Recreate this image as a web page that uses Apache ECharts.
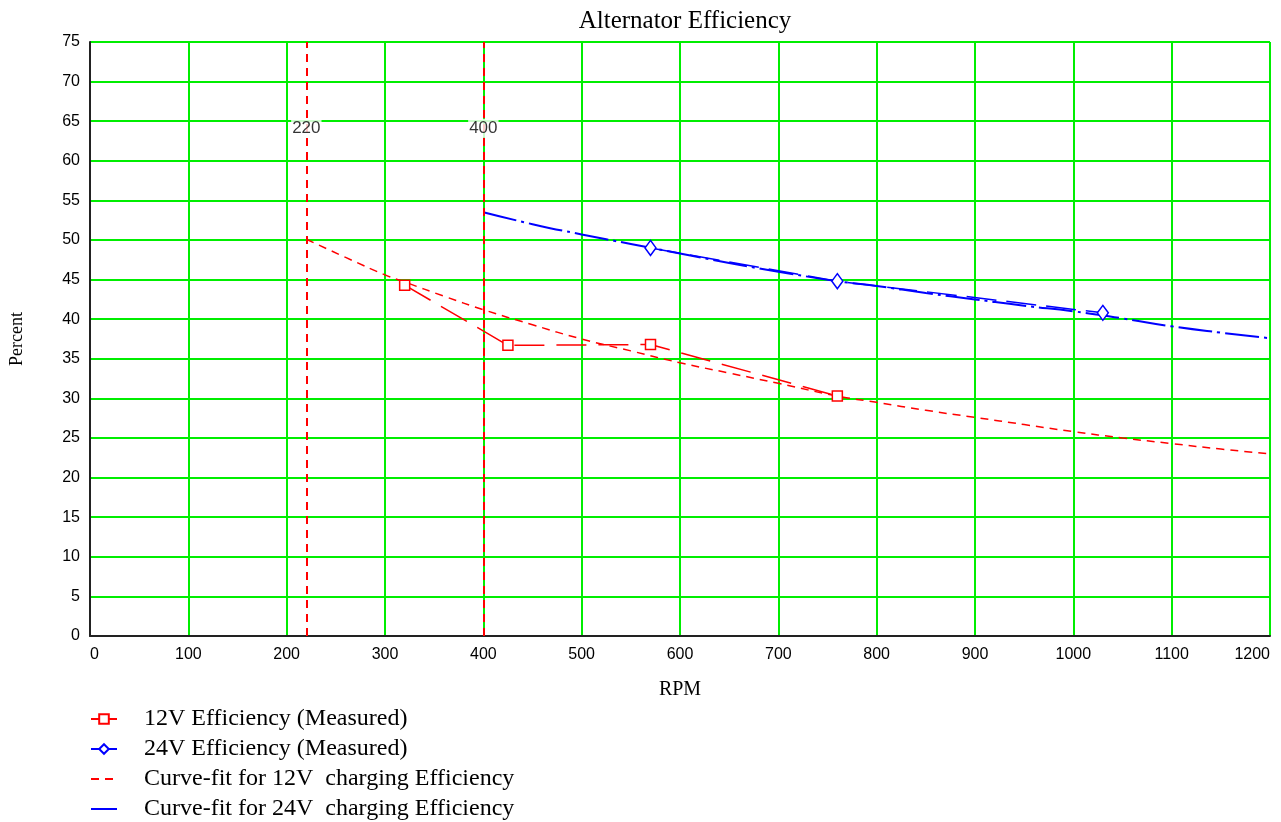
<!DOCTYPE html>
<html>
<head>
<meta charset="utf-8">
<script src="https://cdn.jsdelivr.net/npm/echarts@6/dist/echarts.min.js"></script>
<style>
html, body { margin: 0; padding: 0; background: #fff; }
#main { width: 1281px; height: 822px; }
</style>
</head>
<body>
<div id="main"></div>
<script>
var xTicks = ['0', '100', '200', '300', '400', '500', '600', '700', '800', '900', '1000', '1100', '1200'];
var yTicks = ['0', '5', '10', '15', '20', '25', '30', '35', '40', '45', '50', '55', '60', '65', '70', '75'];

var measured12 = [[320, 44.3], [425, 36.7], [570, 36.8], [760, 30.3]];
var measured24 = [[570, 49.0], [760, 44.8], [1030, 40.8]];

var fit12 = [[220, 50.1], [260, 47.8], [300, 45.6], [320, 44.7], [360, 42.9], [400, 41.2],
    [450, 39.3], [500, 37.5], [550, 36.0], [600, 34.5], [650, 33.2], [700, 31.9],
    [760, 30.3], [800, 29.5], [850, 28.5], [900, 27.6], [950, 26.7], [1000, 25.8],
    [1050, 25.0], [1100, 24.3], [1150, 23.6], [1200, 23.0]];
var fit24 = [[400, 53.5], [450, 52.0], [500, 50.7], [550, 49.5], [600, 48.3], [650, 47.1],
    [700, 46.0], [760, 44.8], [800, 44.2], [850, 43.3], [900, 42.5], [950, 41.7],
    [1000, 41.0], [1050, 40.1], [1100, 39.1], [1150, 38.3], [1200, 37.6]];

var markers = [220, 400];
var markerLabelY = 64.1;

var chart = echarts.init(document.getElementById('main'));
var option = {
    backgroundColor: '#fff',
    animation: false,
    title: {
        text: 'Alternator Efficiency',
        left: 680,
        textAlign: 'center',
        top: 4,
        textStyle: { fontFamily: 'Liberation Serif', fontSize: 25, fontWeight: 'normal', color: '#000' }
    },
    legend: {
        orient: 'vertical',
        left: 90,
        top: 707,
        padding: 0,
        itemGap: 6,
        itemWidth: 26,
        itemHeight: 12,
        textStyle: { fontFamily: 'Liberation Serif', fontSize: 24, lineHeight: 24, color: '#000', padding: [0, 0, 0, 22] },
        data: [
            { name: '12V Efficiency (Measured)' },
            { name: '24V Efficiency (Measured)' },
            { name: 'Curve-fit for 12V  charging Efficiency', itemStyle: { opacity: 0 } },
            { name: 'Curve-fit for 24V  charging Efficiency', itemStyle: { opacity: 0 } }
        ]
    },
    grid: {
        left: 90, right: 11, top: 42, bottom: 186,
        show: true, borderColor: '#333', borderWidth: 1
    },
    xAxis: {
        type: 'value',
        min: 0, max: 1200, interval: 100,
        name: 'RPM',
        nameLocation: 'middle',
        nameGap: 44,
        nameTextStyle: { fontFamily: 'Liberation Serif', fontSize: 20, color: '#000' },
        axisLine: { show: true, lineStyle: { color: '#222', width: 2 } },
        axisTick: { show: false },
        axisLabel: {
            fontFamily: 'Liberation Sans', fontSize: 16, color: '#000', margin: 11,
            alignMinLabel: 'left', alignMaxLabel: 'right',
            formatter: function (v) { return xTicks[Math.round(v / 100)]; }
        },
        splitLine: { show: true, lineStyle: { color: '#00ee00', width: 2 } }
    },
    yAxis: {
        type: 'value',
        min: 0, max: 75, interval: 5,
        name: 'Percent',
        nameLocation: 'middle',
        nameRotate: 90,
        nameGap: 64,
        nameTextStyle: { fontFamily: 'Liberation Serif', fontSize: 18, color: '#000' },
        axisLine: { show: true, lineStyle: { color: '#222', width: 2 } },
        axisTick: { show: false },
        axisLabel: {
            fontFamily: 'Liberation Sans', fontSize: 16, color: '#000', margin: 10,
            formatter: function (v) { return yTicks[Math.round(v / 5)]; }
        },
        splitLine: { show: true, lineStyle: { color: '#00ee00', width: 2 } }
    },
    series: [
        {
            name: '12V Efficiency (Measured)',
            type: 'line',
            data: measured12,
            symbol: 'rect',
            symbolSize: 10,
            itemStyle: { color: '#fff', borderColor: '#ff0000', borderWidth: 1.5 },
            lineStyle: { color: '#ff0000', width: 1.5, type: [30, 12] },
            z: 4
        },
        {
            name: '24V Efficiency (Measured)',
            type: 'line',
            data: measured24,
            symbol: 'diamond',
            symbolSize: [11, 15],
            itemStyle: { color: '#fff', borderColor: '#0000ff', borderWidth: 1.5 },
            lineStyle: { color: '#0000ff', width: 1.5, type: [30, 10] },
            z: 4
        },
        {
            name: 'Curve-fit for 12V  charging Efficiency',
            type: 'line',
            data: fit12,
            smooth: true,
            showSymbol: false,
            symbol: 'none',
            itemStyle: { color: '#ff0000' },
            lineStyle: { color: '#ff0000', width: 1.5, type: [8, 6] },
            markLine: {
                silent: true,
                symbol: 'none',
                label: { show: false },
                lineStyle: { color: '#ff0000', width: 2, type: [8, 6] },
                data: markers.map(function (m) { return { xAxis: m }; })
            },
            z: 3
        },
        {
            name: 'Curve-fit for 24V  charging Efficiency',
            type: 'line',
            data: fit24,
            smooth: true,
            showSymbol: false,
            symbol: 'none',
            itemStyle: { color: '#0000ff' },
            lineStyle: { color: '#0000ff', width: 2, type: [34, 5, 3, 5] },
            z: 3
        },
        {
            name: 'markers',
            type: 'scatter',
            symbolSize: 0,
            silent: true,
            data: markers.map(function (m) { return [m, markerLabelY]; }),
            label: {
                show: true,
                position: 'inside',
                formatter: function (p) { return String(p.value[0]); },
                fontFamily: 'Liberation Sans', fontSize: 17, color: '#000',
                backgroundColor: '#fff', padding: [1, 1]
            },
            z: 5
        }
    ]
};
chart.setOption(option);
</script>
</body>
</html>
